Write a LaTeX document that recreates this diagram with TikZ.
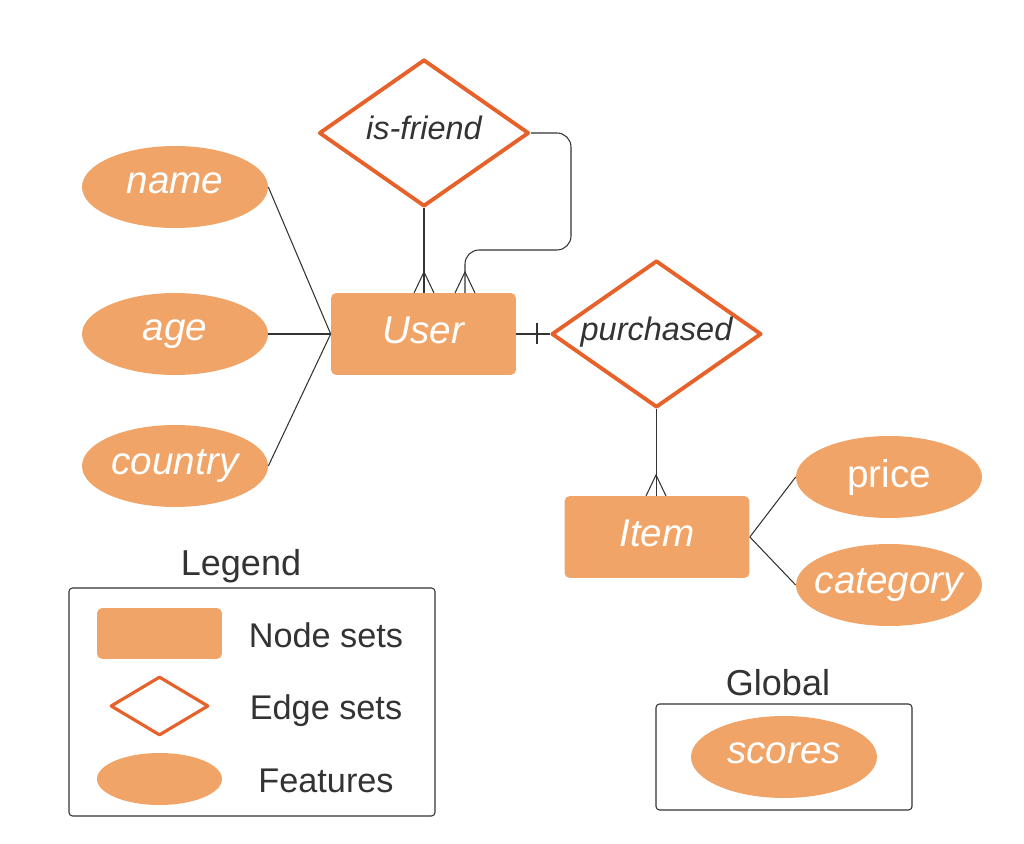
\documentclass[tikz,border=0pt]{standalone}
\usepackage{fontspec}
\setmainfont{Liberation Sans}
\usetikzlibrary{shapes.geometric}
\definecolor{setfill}{HTML}{F1A467}
\definecolor{setline}{HTML}{E6622A}
\definecolor{ink}{HTML}{333333}

\begin{document}
\begin{tikzpicture}[x=0.02cm,y=-0.02cm,
  nodeset/.style={rectangle,rounded corners=3pt,fill=setfill,text=white,minimum width=3.7cm,minimum height=1.64cm,text depth=0.16cm,font=\fontsize{22}{26}\selectfont\itshape},
  edgeset/.style={diamond,draw=setline,line width=2.2pt,line join=round,fill=white,text=ink,aspect=1.43,minimum width=4.2cm,minimum height=2.94cm,inner sep=0pt,text depth=0.2cm,font=\fontsize{18.5}{22}\selectfont\itshape},
  feature/.style={ellipse,fill=setfill,text=white,minimum width=3.72cm,minimum height=1.64cm,inner xsep=-0.3cm,inner ysep=0pt,text depth=0.16cm,font=\fontsize{22}{26}\selectfont\itshape},
  conn/.style={draw=ink,line width=0.6pt},
  keytext/.style={text=ink,text depth=0pt,font=\fontsize{19.5}{23}\selectfont},
  boxtitle/.style={text=ink,text depth=0pt,font=\fontsize{20.5}{24}\selectfont},
  frame/.style={draw=ink,line width=0.6pt,rounded corners=2pt}]

\useasboundingbox (0,0) rectangle (1024,844);

% features of users
\node[feature] (name) at (175,187) {name};
\node[feature] (age) at (175,334) {age};
\node[feature] (country) at (175,466) {country};

% node and edge sets
\node[nodeset] (user) at (423.5,334) {User};
\node[edgeset] (isfriend) at (424,133) {is-friend};
\node[edgeset] (purchased) at (656.5,334) {purchased};
\node[nodeset] (item) at (657,537) {Item};

% features of items
\node[feature,font=\fontsize{22}{26}\selectfont] (price) at (889,477) {price};
\node[feature] (category) at (889,585) {category};

% attribute links
\draw[conn] (name.east) -- (user.west);
\draw[conn] (age.east) -- (user.west);
\draw[conn] (country.east) -- (user.west);
\draw[conn] (item.east) -- (price.west);
\draw[conn] (item.east) -- (category.west);

% relations
\draw[conn] (isfriend.south) -- (isfriend.south |- user.north);
\draw[conn] (414,293) -- (424,272) -- (434,293);
\draw[conn,rounded corners=8pt] (isfriend.east) -- (571,133) -- (571,250) -- (465,250) -- (465,293);
\draw[conn] (455,293) -- (465,272) -- (475,293);
\draw[conn] (user.east) -- (purchased.west);
\draw[conn] (537,323) -- (537,344);
\draw[conn] (purchased.south) -- (purchased.south |- item.north);
\draw[conn] (646,496) -- (656,475) -- (666,496);

% legend
\node[boxtitle] (legendtitle) at (241,562) {Legend};
\draw[frame] (69,588) rectangle (435,816);
\node[nodeset,minimum width=2.5cm,minimum height=1.02cm] (keynode) at (159.5,633.5) {};
\node[edgeset,line width=1.8pt,minimum width=1.96cm,minimum height=1.18cm] (keyedge) at (159.5,706) {};
\node[feature,minimum width=2.5cm,minimum height=1.04cm] (keyfeat) at (159.5,779) {};
\node[keytext] at (326,635) {Node sets};
\node[keytext] at (326,707) {Edge sets};
\node[keytext] at (326,781) {Features};

% global features
\node[boxtitle] (globaltitle) at (778,682) {Global};
\draw[frame] (656,704) rectangle (912,810);
\node[feature] (scores) at (784,757) {scores};

\end{tikzpicture}
\end{document}
